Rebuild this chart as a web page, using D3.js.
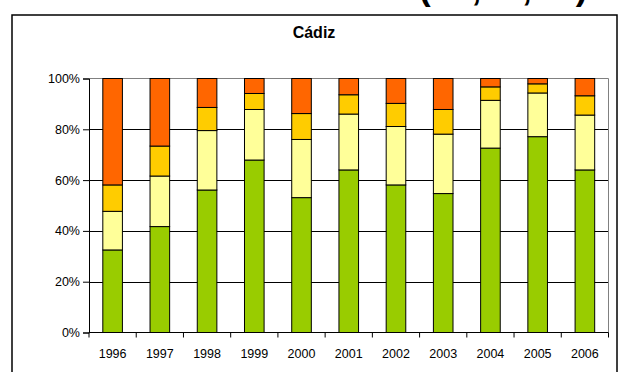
<!DOCTYPE html>
<html>
<head>
<meta charset="utf-8">
<script src="https://cdn.jsdelivr.net/npm/d3@7"></script>
<style>
  html, body { margin: 0; padding: 0; background: #fff; }
  svg { display: block; font-family: Arial, "Liberation Sans", sans-serif; }
</style>
</head>
<body>
<svg id="chart" width="625" height="372"></svg>
<script>
// Years on the category axis
const years = ["1996","1997","1998","1999","2000","2001","2002","2003","2004","2005","2006"];

// Share of each group per year (percent), stacked bottom to top
const groupA = [32.5, 41.7, 56.1, 67.9, 53.1, 64.0, 58.1, 54.7, 72.6, 77.1, 64.0];
const groupB = [15.2, 19.9, 23.4, 19.9, 22.9, 22.0, 23.0, 23.4, 18.8, 17.2, 21.6];
const groupC = [10.4, 11.8,  9.1,  6.3, 10.2,  7.6,  9.1,  9.7,  5.3,  3.6,  7.6];
const groupD = [41.9, 26.6, 11.4,  5.9, 13.8,  6.4,  9.8, 12.2,  3.3,  2.1,  6.8];

const seriesKeys = ["A", "B", "C", "D"];
const seriesColors = ["#99CC00", "#FFFF99", "#FFCC00", "#FF6600"];

const yTicks = [0, 20, 40, 60, 80, 100];
const title = "Cádiz";
const heading = "(ha, %, nº)";

const rows = years.map((y, i) => ({
  year: y, A: groupA[i], B: groupB[i], C: groupC[i], D: groupD[i]
}));

const svg = d3.select("#chart");

// section heading above the frame; the page edge trims it to its lower edge
svg.append("text")
  .attr("x", 419).attr("y", -0.5)
  .attr("font-size", 35).attr("font-weight", "bold")
  .text(heading);

// outer chart frame
svg.append("rect")
  .attr("x", 12).attr("y", 15)
  .attr("width", 605).attr("height", 370)
  .attr("fill", "#fff").attr("stroke", "#000").attr("stroke-width", 1.5);

svg.append("text")
  .attr("x", 314).attr("y", 38)
  .attr("text-anchor", "middle")
  .attr("font-size", 16).attr("font-weight", "bold")
  .text(title);

const plot = { left: 89, right: 608.5, top: 78.5, bottom: 332.5 };

const x = d3.scaleBand()
  .domain(years)
  .range([plot.left, plot.right])
  .paddingInner(0.585)
  .paddingOuter(0.2925);

const y = d3.scaleLinear()
  .domain([0, 100])
  .range([plot.bottom, plot.top]);

// horizontal gridlines
svg.append("g")
  .selectAll("line")
  .data(yTicks.filter(t => t > 0 && t < 100))
  .join("line")
  .attr("x1", plot.left).attr("x2", plot.right)
  .attr("y1", d => Math.round(y(d)) + 0.5).attr("y2", d => Math.round(y(d)) + 0.5)
  .attr("stroke", "#000").attr("stroke-width", 1);

// plot area top and right edges
svg.append("path")
  .attr("d", `M${plot.left},${plot.top}H${plot.right}V${plot.bottom}`)
  .attr("fill", "none").attr("stroke", "#808080").attr("stroke-width", 1);

// stacked bars
const stack = d3.stack().keys(seriesKeys);
const layers = stack(rows);

svg.append("g")
  .selectAll("g")
  .data(layers)
  .join("g")
  .attr("fill", (d, i) => seriesColors[i])
  .selectAll("rect")
  .data(d => d)
  .join("rect")
  .attr("x", d => x(d.data.year))
  .attr("width", x.bandwidth())
  .attr("y", d => y(d[1]))
  .attr("height", d => y(d[0]) - y(d[1]))
  .attr("stroke", "#000").attr("stroke-width", 1);

// y axis
const yAxis = d3.axisLeft(y)
  .tickValues(yTicks)
  .tickFormat(d => d + "%")
  .tickSize(6)
  .tickPadding(3);

const gy = svg.append("g")
  .attr("transform", `translate(${plot.left},0)`)
  .call(yAxis);
gy.select(".domain").attr("stroke", "#000");
gy.selectAll(".tick line").attr("stroke", "#000");
gy.selectAll(".tick text")
  .attr("font-size", 12.5).attr("fill", "#000")
  .attr("font-family", "Arial, 'Liberation Sans', sans-serif");

// x axis: labels centred under bars, ticks between categories
const gx = svg.append("g")
  .attr("transform", `translate(0,${plot.bottom})`);
gx.append("line")
  .attr("x1", plot.left).attr("x2", plot.right)
  .attr("stroke", "#000");
const step = x.step();
const boundaries = d3.range(years.length + 1).map(i => plot.left + i * step);
gx.selectAll("line.tk")
  .data(boundaries)
  .join("line")
  .attr("class", "tk")
  .attr("x1", d => d).attr("x2", d => d)
  .attr("y1", 0).attr("y2", 5)
  .attr("stroke", "#000");
gx.selectAll("text")
  .data(years)
  .join("text")
  .attr("x", d => x(d) + x.bandwidth() / 2)
  .attr("y", 25)
  .attr("text-anchor", "middle")
  .attr("font-size", 12.5)
  .text(d => d);
</script>
</body>
</html>
